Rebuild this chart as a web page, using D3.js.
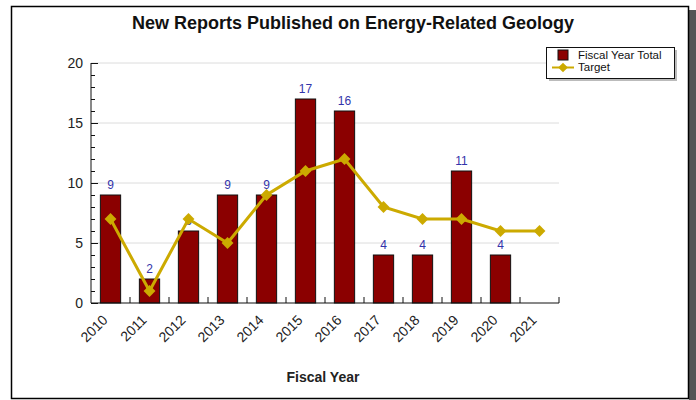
<!DOCTYPE html>
<html>
<head>
<meta charset="utf-8">
<script src="https://d3js.org/d3.v7.min.js"></script>
<style>
  body { margin: 0; background: #fff; }
  svg { display: block; font-family: "Liberation Sans", Arial, sans-serif; }
</style>
</head>
<body>
<div id="chart"></div>
<script>
// data
const years = ["2010","2011","2012","2013","2014","2015","2016","2017","2018","2019","2020","2021"];
const totals = [9, 2, 6, 9, 9, 17, 16, 4, 4, 11, 4, null];
const targets = [7, 1, 7, 5, 9, 11, 12, 8, 7, 7, 6, 6];
const yTicks = [0, 5, 10, 15, 20];

const w = 696, h = 400;
const padL = 91, padR = 559, padT = 63, padB = 303;
const barColor = "#8b0000", lineColor = "#ccaa00";

const svg = d3.select("#chart").append("svg")
  .attr("width", w).attr("height", h);

svg.append("rect").attr("width", w).attr("height", h).attr("fill", "#fff");

// frame + shadow
svg.append("rect").attr("x", 689).attr("y", 10).attr("width", 7).attr("height", 390).attr("fill", "#555");
svg.append("rect").attr("x", 11.5).attr("y", 6.5).attr("width", 677).attr("height", 392)
  .attr("fill", "#fff").attr("stroke", "#000").attr("stroke-width", 1.5);

// scales
const x = d3.scaleBand().domain(years).range([padL, padR]).paddingInner(0.48).paddingOuter(0.24);
const xc = d => x(d) + x.bandwidth() / 2;
const y = d3.scaleLinear().domain([0, 20]).range([padB, padT]);

// gridlines
svg.append("g").selectAll("line").data(yTicks.slice(1)).join("line")
  .attr("x1", padL).attr("x2", padR)
  .attr("y1", d => y(d)).attr("y2", d => y(d))
  .attr("stroke", "#dcdcdc").attr("stroke-width", 1);

// title
svg.append("text").attr("x", 353).attr("y", 29).attr("text-anchor", "middle")
  .attr("font-size", 18).attr("font-weight", "bold").attr("fill", "#111")
  .text("New Reports Published on Energy-Related Geology");

// bars
const barData = years.map((yr, i) => ({ yr, v: totals[i] })).filter(d => d.v != null);
svg.append("g").selectAll("rect").data(barData).join("rect")
  .attr("x", d => x(d.yr)).attr("width", x.bandwidth())
  .attr("y", d => y(d.v)).attr("height", d => y(0) - y(d.v))
  .attr("fill", barColor).attr("stroke", "#111").attr("stroke-width", 1);

// value labels
svg.append("g").selectAll("text").data(barData).join("text")
  .attr("x", d => xc(d.yr)).attr("y", d => y(d.v) - 6)
  .attr("text-anchor", "middle").attr("font-size", 12).attr("fill", "#3333aa")
  .text(d => d.v);

// target line
const tData = years.map((yr, i) => ({ yr, v: targets[i] }));
svg.append("path").datum(tData)
  .attr("d", d3.line().x(d => xc(d.yr)).y(d => y(d.v)))
  .attr("fill", "none").attr("stroke", lineColor).attr("stroke-width", 3);
svg.append("g").selectAll("path").data(tData).join("path")
  .attr("transform", d => `translate(${xc(d.yr)},${y(d.v)})`)
  .attr("d", d3.symbol(d3.symbolDiamond2, 90))
  .attr("fill", lineColor);

// y axis
const yAxis = svg.append("g").attr("transform", `translate(${padL},0)`);
yAxis.call(d3.axisRight(y).ticks(20).tickSize(4).tickFormat(""));
yAxis.selectAll(".tick line").attr("x2", d => d % 5 === 0 ? 7 : 4).attr("stroke", "#111");
yAxis.select(".domain").attr("stroke", "#111").attr("d", `M0,${padT}V${padB}`);
svg.append("g").selectAll("text").data(yTicks).join("text")
  .attr("x", padL - 8).attr("y", d => y(d) + 5)
  .attr("text-anchor", "end").attr("font-size", 14).attr("fill", "#222")
  .text(d => d);

// x axis
const xAxis = svg.append("g").attr("transform", `translate(0,${padB})`);
xAxis.call(d3.axisTop(x).tickSize(0).tickFormat(""));
xAxis.select(".domain").attr("stroke", "#111").attr("d", `M${padL},0H${padR}`);
const seps = years.map(yr => x(yr) + x.bandwidth() + x.step() * x.paddingInner() / 2);
xAxis.selectAll(".sep").data(seps).join("line").attr("class", "sep")
  .attr("x1", d => d).attr("x2", d => d).attr("y1", 0).attr("y2", -6)
  .attr("stroke", "#111");
svg.append("g").selectAll("text").data(years).join("text")
  .attr("transform", d => `translate(${xc(d) - 2},${padB + 18}) rotate(-45)`)
  .attr("text-anchor", "end").attr("font-size", 14).attr("fill", "#222")
  .text(d => d);

svg.append("text").attr("x", 323).attr("y", 382).attr("text-anchor", "middle")
  .attr("font-size", 14).attr("font-weight", "bold").attr("fill", "#222")
  .text("Fiscal Year");

// legend
const lg = svg.append("g").attr("transform", "translate(546,47)");
lg.append("rect").attr("x", 3).attr("y", 3).attr("width", 128).attr("height", 31).attr("fill", "#bbb");
lg.append("rect").attr("x", 0.5).attr("y", 0.5).attr("width", 128).attr("height", 31)
  .attr("fill", "#fff").attr("stroke", "#111").attr("stroke-width", 1);
lg.append("rect").attr("x", 12).attr("y", 3).attr("width", 10).attr("height", 10)
  .attr("fill", barColor).attr("stroke", "#111");
lg.append("text").attr("x", 32).attr("y", 12).attr("font-size", 11.5).attr("fill", "#111").text("Fiscal Year Total");
lg.append("line").attr("x1", 6).attr("x2", 28).attr("y1", 20.5).attr("y2", 20.5)
  .attr("stroke", lineColor).attr("stroke-width", 2);
lg.append("path").attr("transform", "translate(17,20.5)")
  .attr("d", d3.symbol(d3.symbolDiamond2, 60)).attr("fill", lineColor);
lg.append("text").attr("x", 32).attr("y", 24).attr("font-size", 11.5).attr("fill", "#111").text("Target");
</script>
</body>
</html>
